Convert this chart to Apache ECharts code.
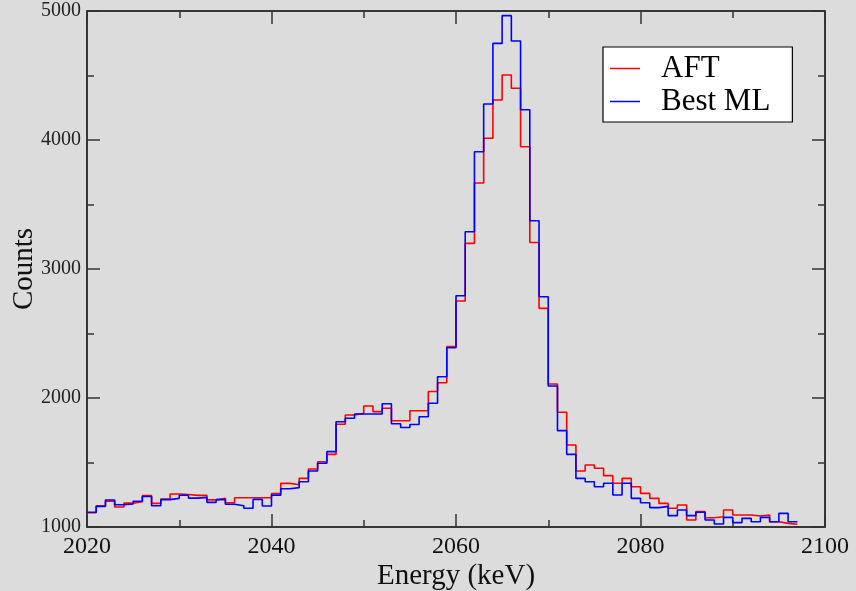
<!DOCTYPE html>
<html>
<head>
<meta charset="utf-8">
<script src="https://cdn.jsdelivr.net/npm/echarts@6/dist/echarts.min.js"></script>
<style>
  html, body { margin: 0; padding: 0; background: #dcdcdc; }
  #chart { width: 856px; height: 591px; }
</style>
</head>
<body>
<div id="chart"></div>
<script>
// Energy spectrum, 1 keV bins starting at 2020 keV
const binStart = 2020;
const binWidth = 1;

// Counts per bin, AFT reconstruction
const aftCounts = [
  1110, 1165, 1200, 1155, 1185, 1196, 1243, 1183, 1217, 1256,
  1252, 1245, 1245, 1210, 1222, 1188, 1227, 1227, 1227, 1227,
  1260, 1338, 1328, 1377, 1450, 1506, 1563, 1796, 1868, 1881,
  1938, 1894, 1920, 1824, 1824, 1901, 1901, 2050, 2118, 2398,
  2752, 3199, 3667, 4013, 4310, 4504, 4401, 3948, 3206, 2695,
  2108, 1889, 1636, 1434, 1481, 1455, 1398, 1339, 1377, 1312,
  1261, 1222, 1183, 1145, 1171, 1054, 1119, 1072, 1080, 1132,
  1093, 1093, 1085, 1093, 1041, 1028, 1021
];

// Counts per bin, best machine-learning reconstruction
const mlCounts = [
  1114, 1160, 1209, 1172, 1178, 1200, 1237, 1165, 1212, 1222,
  1246, 1224, 1230, 1191, 1212, 1176, 1165, 1145, 1214, 1163,
  1247, 1296, 1305, 1351, 1434, 1494, 1584, 1816, 1843, 1876,
  1876, 1876, 1956, 1800, 1771, 1795, 1855, 1959, 2165, 2390,
  2793, 3289, 3909, 4279, 4749, 4964, 4767, 4235, 3374, 2785,
  2093, 1747, 1563, 1377, 1351, 1312, 1339, 1248, 1339, 1222,
  1188, 1150, 1160, 1088, 1132, 1088, 1114, 1054, 1023, 1075,
  1034, 1067, 1041, 1075, 1041, 1106, 1041
];

const seriesNames = ['AFT', 'Best ML'];
const xTicks = { min: 2020, max: 2100, step: 20 };
const yTicks = { min: 1000, max: 5000, step: 1000 };

// Step outline: each bin drawn from its lower edge, closed at the last upper edge
function histogramPoints(counts) {
  const pts = counts.map((c, i) => [binStart + i * binWidth, c]);
  pts.push([binStart + counts.length * binWidth, counts[counts.length - 1]]);
  return pts;
}

const serif = 'Liberation Serif';
const ink = '#111';
const plain = v => String(v);

function frameAxis(extra) {
  return Object.assign({
    type: 'value',
    axisLine: { show: true, onZero: false, lineStyle: { color: '#000', width: 1.5 } },
    axisTick: { show: true, inside: true, length: 13, lineStyle: { color: '#333', width: 1.5 } },
    minorTick: { show: true, splitNumber: 2, length: 7, lineStyle: { color: '#333', width: 1.5 } },
    splitLine: { show: false },
    minorSplitLine: { show: false }
  }, extra);
}

const chart = echarts.init(document.getElementById('chart'), null, { renderer: 'canvas' });

chart.setOption({
  backgroundColor: '#dcdcdc',
  animation: false,
  grid: { left: 87, right: 31, top: 11, bottom: 64, show: false, containLabel: false, outerBoundsMode: 'none' },
  legend: {
    data: seriesNames,
    orient: 'vertical',
    left: 603,
    top: 47,
    icon: 'rect',
    itemWidth: 30,
    itemHeight: 1.5,
    itemGap: 0,
    padding: [5, 22, 4, 7],
    backgroundColor: '#fff',
    borderColor: '#000',
    borderWidth: 1.2,
    borderRadius: 0,
    textStyle: {
      fontFamily: serif,
      fontSize: 31,
      lineHeight: 33,
      color: '#000',
      padding: [0, 0, 0, 16]
    }
  },
  xAxis: [
    frameAxis({
      position: 'bottom',
      min: xTicks.min, max: xTicks.max, interval: xTicks.step,
      name: 'Energy (keV)',
      nameLocation: 'middle',
      nameGap: 35,
      nameMoveOverlap: false,
      nameTextStyle: { fontFamily: serif, fontSize: 29, color: ink },
      axisLabel: {
        show: true, margin: 8, showMinLabel: true, showMaxLabel: true,
        fontFamily: serif, fontSize: 24, color: ink, formatter: plain
      }
    }),
    frameAxis({
      position: 'top',
      min: xTicks.min, max: xTicks.max, interval: xTicks.step,
      axisLabel: { show: false }
    })
  ],
  yAxis: [
    frameAxis({
      position: 'left',
      min: yTicks.min, max: yTicks.max, interval: yTicks.step,
      name: 'Counts',
      nameLocation: 'middle',
      nameGap: 48,
      nameMoveOverlap: false,
      nameTextStyle: { fontFamily: serif, fontSize: 29, color: ink },
      axisLabel: {
        show: true, margin: 6, showMinLabel: true, showMaxLabel: true,
        fontFamily: serif, fontSize: 20, color: '#222', formatter: plain
      }
    }),
    frameAxis({
      position: 'right',
      min: yTicks.min, max: yTicks.max, interval: yTicks.step,
      axisLabel: { show: false }
    })
  ],
  series: [
    {
      name: seriesNames[0],
      type: 'line',
      step: 'end',
      showSymbol: false,
      symbol: 'none',
      color: '#ff0000',
      lineStyle: { color: '#ff0000', width: 1.6 },
      data: histogramPoints(aftCounts)
    },
    {
      name: seriesNames[1],
      type: 'line',
      step: 'end',
      showSymbol: false,
      symbol: 'none',
      color: '#0000ff',
      lineStyle: { color: '#0000ff', width: 1.6 },
      data: histogramPoints(mlCounts)
    }
  ]
});
</script>
</body>
</html>
